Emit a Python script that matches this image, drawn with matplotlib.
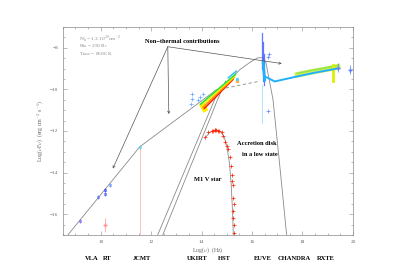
import matplotlib
matplotlib.use("Agg")
import matplotlib.pyplot as plt
from matplotlib.ticker import MultipleLocator

plt.rcParams['font.family'] = ['Liberation Serif', 'DejaVu Serif']
plt.rcParams['mathtext.fontset'] = 'cm'

GRAY = '#8a8a8a'

# non-thermal power law (solid) and its extension (dashed)
pl_x = [8.7, 11.55, 14.5]
pl_y = [-17.0, -12.76, -10.1]
pld_x = [14.5, 16.25]
pld_y = [-10.05, -9.62]

# accretion disk black body
disk_x = [12.26, 14.52, 14.84, 15.52, 15.91, 16.23, 16.43, 16.55, 16.83, 17.10, 17.38]
disk_y = [-17.0, -10.48, -9.86, -9.05, -8.71, -8.48, -8.48, -8.71, -10.48, -13.67, -17.1]

# second rising curve
tail_x = [12.46, 14.64, 14.95]
tail_y = [-17.0, -10.48, -9.6]

# M1 V star black body
mstar_x = [14.13, 14.30, 14.45, 14.60, 14.75, 14.90, 15.00, 15.10, 15.17, 15.22, 15.26]
mstar_y = [-12.35, -12.10, -11.98, -11.95, -12.02, -12.30, -12.75, -13.50, -14.50, -15.70, -17.0]

# M star photometry / spectrum
ms_x = [14.13, 14.25, 14.40, 14.52, 14.58, 14.64, 14.70, 14.80, 14.84, 14.92, 15.00, 15.04,
        15.12, 15.16, 15.20, 15.24, 15.24, 15.24, 15.26, 15.28, 15.28, 15.22, 15.27, 14.46, 14.55]
ms_y = [-12.29, -12.05, -12.0, -11.95, -11.97, -12.0, -12.02, -12.05, -12.24, -12.52, -12.71, -12.86,
        -13.24, -13.67, -14.14, -14.62, -15.24, -15.86, -16.2, -16.52, -16.9, -14.4, -15.5, -11.98, -11.96]

# radio / mm points
radio_x = [9.17, 9.88, 10.16, 10.18, 10.36, 11.55]
radio_y = [-16.33, -15.19, -14.86, -15.02, -14.62, -12.76]
radio_c = ['#7a5cff', '#4a6cff', '#2a3cff', '#3a50ff', '#5a8cff', '#4ac8ff']

# near-IR points
ir_x = [13.62, 13.60, 13.57, 13.85, 13.95, 14.05]
ir_y = [-10.2, -10.45, -10.7, -10.5, -10.35, -10.2]

# HST stripes (start / end)
hst_x0 = [14.10, 14.05, 14.00, 13.95, 15.05]
hst_x1 = [15.25, 15.30, 15.33, 15.36, 15.38]
hst_y0 = [-10.93, -10.86, -10.79, -10.72, -9.45]
hst_y1 = [-9.52, -9.42, -9.34, -9.26, -9.12]
hst_c = ['#ff1a00', '#ff9000', '#f0f000', '#30e030', '#30c0ff']

# EUVE spike
euve_x = [16.40, 16.43, 16.46]
euve_top = [-7.3, -7.7, -8.3]
euve_bot = [-9.0, -9.6, -9.8]

# Chandra / RXTE
chan_x = [16.51, 16.90, 17.6, 18.4, 19.37]
chan_y = [-9.38, -9.62, -9.43, -9.22, -9.0]
band_x = [17.8, 18.4, 19.0, 19.4]
band_y = [-9.3, -9.15, -9.02, -8.92]

# model parameters
params = [r'N$_{\rm h}$ = 1.3 10$^{20}$cm$^{-2}$',
          r'R$_{\rm in}$ = 250 R$_{\rm s}$',
          r'T$_{\rm max}$ = 8606 K']

fig = plt.figure(figsize=(3.93, 2.78), dpi=100)
ax = fig.add_axes([0.160, 0.155, 0.738, 0.748])

ax.plot(pl_x, pl_y, color=GRAY, lw=0.6)
ax.plot(pld_x, pld_y, color=GRAY, lw=0.6, ls=(0, (4, 3)))
ax.plot(disk_x, disk_y, color=GRAY, lw=0.6)
ax.plot(tail_x, tail_y, color=GRAY, lw=0.6)
ax.plot(mstar_x, mstar_y, color=GRAY, lw=0.6)

# upper limits
ax.plot([11.55, 11.55], [-12.8, -17], color='#ffb8b8', lw=0.6)
ax.errorbar([10.16], [-16.52], yerr=0.35, fmt='+', color='#ff9090', ms=3, lw=0.5)

for x, y, c in zip(radio_x, radio_y, radio_c):
    ax.errorbar([x], [y], yerr=0.1, fmt='s', color=c, ms=2, mew=0.4, mfc='none', lw=0.5)

ax.plot(ms_x, ms_y, '+', color='#ff2000', ms=2.5, mew=0.5)

ax.plot([14.05, 14.12], [-10.8, -10.95], color='#ffee00', lw=4)
for x0, x1, y0, y1, c in zip(hst_x0, hst_x1, hst_y0, hst_y1, hst_c):
    ax.plot([x0, x1], [y0, y1], color=c, lw=1.1, solid_capstyle='round')
ax.plot(ir_x, ir_y, '+', color='#60a8ff', ms=2.5, mew=0.5)
ax.plot([15.40], [-9.62], 's', color='#ffb040', ms=1.5)
ax.plot([15.40], [-9.5], 's', color='#50d0ff', ms=1.2)

for x, t, b in zip(euve_x, euve_top, euve_bot):
    ax.plot([x, x], [t, b], color='#4a60ff', lw=0.9, alpha=0.85)
ax.plot([16.44, 16.50], [-8.7, -9.55], color='#20b0ff', lw=2.0)
ax.plot([16.39, 16.39], [-9.8, -11.6], color='#a0e0ff', lw=0.6)
ax.plot([16.63, 16.68, 16.62], [-11.05, -8.3, -8.45], '+', color='#6080ff', ms=2.5, mew=0.5)

ax.plot(band_x, band_y, color='#d0f040', lw=4.0, alpha=0.9)
ax.plot(band_x, [v + 0.07 for v in band_y], color='#80e050', lw=1.2, alpha=0.8)
ax.plot([19.2, 19.2], [-8.85, -9.6], color='#e0f000', lw=2.0)
ax.plot(chan_x, chan_y, color='#20b0ff', lw=1.4)
ax.errorbar([19.4, 19.88], [-8.95, -9.05], yerr=0.2, fmt='+', color='#6080ff', ms=2.5, lw=0.5)

# annotations
ax.text(13.25, -7.71, 'Non\u2212thermal contributions', fontsize=4.6, fontweight='bold',
        ha='center', va='center')
for tx, ty in [(10.48, -13.81), (12.70, -11.19), (17.18, -8.76)]:
    ax.annotate('', xy=(tx, ty), xytext=(12.66, -7.95),
                arrowprops=dict(arrowstyle='->', color='#555555', lw=0.5,
                                shrinkA=0, shrinkB=0, mutation_scale=4))

for i, s in enumerate(params):
    ax.text(9.13, -7.56 - 0.38 * i, s, fontsize=3.8, color=GRAY, va='center')

ax.text(16.2, -12.7, 'Accretion disk', fontsize=4.6, fontweight='bold', ha='center')
ax.text(16.3, -13.2, 'in a low state', fontsize=4.6, fontweight='bold', ha='center')
ax.text(14.25, -14.4, 'M1 V star', fontsize=4.6, fontweight='bold', ha='center')

ax.set_xlim(8.5, 20)
ax.set_ylim(-17, -7)
ax.xaxis.set_major_locator(MultipleLocator(2))
ax.xaxis.set_minor_locator(MultipleLocator(0.5))
ax.yaxis.set_major_locator(MultipleLocator(2))
ax.yaxis.set_minor_locator(MultipleLocator(0.5))
ax.tick_params(which='both', direction='in', top=True, right=True, colors=GRAY,
               labelsize=3.8, labelcolor='#666666', width=0.4)
ax.tick_params(which='major', length=3)
ax.tick_params(which='minor', length=1.5)
for s in ax.spines.values():
    s.set_color(GRAY)
    s.set_linewidth(0.5)

ax.set_xlabel(r'Log($\nu$)  (Hz)', fontsize=4.2, color='#666666')
ax.set_ylabel(r'Log($\nu$F$\nu$)  (erg cm$^{-2}$ s$^{-1}$)', fontsize=4.2, color='#666666')
ax.xaxis.set_label_coords(0.5, -0.05)
ax.yaxis.set_label_coords(-0.058, 0.5)

inst = ['VLA', 'RT', 'JCMT', 'UKIRT', 'HST', 'EUVE', 'CHANDRA', 'RXTE']
inst_px = [92, 107, 142, 197, 224, 263, 294, 326]
for name, px in zip(inst, inst_px):
    fig.text(px / 393, 1 - 259 / 278, name, fontsize=4.7, fontweight='bold',
             ha='center', va='center')

fig.savefig('out.png', dpi=100)
